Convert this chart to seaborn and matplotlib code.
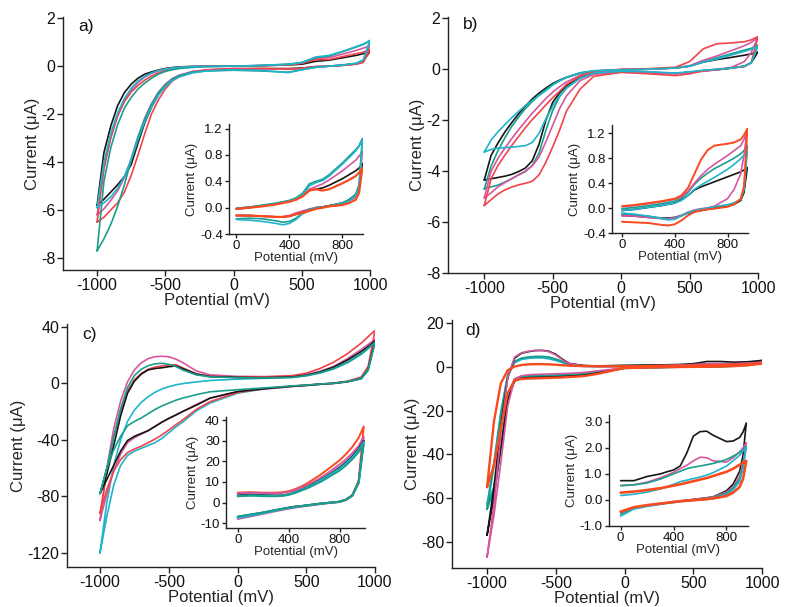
import matplotlib
matplotlib.use("Agg")
import matplotlib.pyplot as plt
import seaborn as sns

# ---------------- data ----------------
MAIN_X = [-1000, -950, -900, -850, -800, -750, -700, -650, -600, -550, -500, -450, -400,
          -300, -200, 0, 200, 400, 500, 600, 700, 800, 900, 950, 1000]
INSET_X = [0, 100, 200, 300, 350, 400, 450, 500, 550, 600, 650, 700, 800, 850, 900, 925, 950]
INSET_X_C = [0, 100, 200, 300, 350, 400, 450, 500, 550, 600, 650, 700, 800, 850, 900, 950, 990]

# panel a
A_BLACK_UP = [-5.8, -3.6, -2.5, -1.65, -1.1, -0.75, -0.5, -0.33, -0.24, -0.16, -0.1, -0.06, -0.03, -0.01, 0, 0, 0.02, 0.05, 0.08, 0.2, 0.25, 0.35, 0.45, 0.52, 0.62]
A_BLACK_DN = [-5.8, -5.55, -5.25, -4.95, -4.6, -4.1, -3.2, -2.35, -1.7, -1.18, -0.8, -0.55, -0.4, -0.24, -0.17, -0.12, -0.1, -0.1, -0.08, -0.02, 0.0, 0.04, 0.1, 0.2, 0.62]
A_TEAL_UP = [-7.7, -4.8, -3.4, -2.45, -1.75, -1.3, -0.95, -0.7, -0.5, -0.33, -0.22, -0.15, -0.1, -0.05, -0.02, 0, 0.03, 0.08, 0.15, 0.35, 0.42, 0.6, 0.8, 0.9, 1.05]
A_TEAL_DN = [-7.7, -7.2, -6.6, -5.85, -4.95, -3.9, -2.95, -2.2, -1.58, -1.1, -0.78, -0.55, -0.4, -0.25, -0.2, -0.17, -0.2, -0.25, -0.15, -0.05, 0.0, 0.05, 0.12, 0.25, 1.05]
A_CYAN_UP = [-5.9, -4.0, -2.8, -1.95, -1.35, -0.92, -0.62, -0.42, -0.28, -0.18, -0.12, -0.08, -0.05, -0.02, -0.01, 0, 0.03, 0.08, 0.15, 0.38, 0.45, 0.62, 0.82, 0.92, 1.08]
A_CYAN_DN = [-5.9, -5.7, -5.45, -5.1, -4.6, -3.9, -3.05, -2.3, -1.7, -1.2, -0.85, -0.6, -0.45, -0.28, -0.2, -0.15, -0.18, -0.27, -0.15, -0.05, 0.0, 0.05, 0.12, 0.25, 1.08]
A_PINK_UP = [-6.2, -4.3, -3.0, -2.1, -1.45, -1.0, -0.68, -0.45, -0.3, -0.2, -0.13, -0.08, -0.05, -0.02, -0.01, 0, 0.02, 0.07, 0.12, 0.3, 0.36, 0.5, 0.66, 0.75, 0.85]
A_PINK_DN = [-6.2, -5.95, -5.6, -5.2, -4.65, -3.85, -2.95, -2.15, -1.55, -1.08, -0.75, -0.52, -0.38, -0.22, -0.15, -0.1, -0.11, -0.13, -0.1, -0.02, 0.0, 0.04, 0.1, 0.2, 0.85]
A_RED_UP = [-6.5, -4.2, -2.95, -2.05, -1.48, -1.08, -0.8, -0.58, -0.41, -0.28, -0.19, -0.12, -0.08, -0.03, -0.01, 0, 0.02, 0.06, 0.12, 0.27, 0.28, 0.4, 0.52, 0.58, 0.7]
A_RED_DN = [-6.5, -6.3, -6.0, -5.7, -5.25, -4.55, -3.7, -2.8, -1.97, -1.4, -0.95, -0.62, -0.45, -0.25, -0.16, -0.1, -0.1, -0.12, -0.1, -0.03, 0.0, 0.03, 0.08, 0.15, 0.7]

AI_BLACK_UP = [-0.02, 0.0, 0.03, 0.06, 0.08, 0.1, 0.13, 0.18, 0.26, 0.28, 0.3, 0.34, 0.44, 0.5, 0.56, 0.6, 0.67]
AI_BLACK_DN = [-0.12, -0.12, -0.13, -0.14, -0.14, -0.13, -0.1, -0.07, -0.04, 0.0, 0.01, 0.03, 0.07, 0.12, 0.2, 0.3, 0.67]
AI_TEAL_UP = [-0.01, 0.01, 0.04, 0.07, 0.09, 0.11, 0.15, 0.22, 0.36, 0.4, 0.43, 0.5, 0.68, 0.78, 0.88, 0.94, 1.05]
AI_TEAL_DN = [-0.17, -0.16, -0.17, -0.2, -0.22, -0.21, -0.16, -0.08, -0.03, 0.0, 0.01, 0.03, 0.07, 0.12, 0.2, 0.35, 1.05]
AI_CYAN_UP = [-0.02, 0.0, 0.03, 0.06, 0.08, 0.1, 0.14, 0.2, 0.33, 0.38, 0.41, 0.48, 0.66, 0.76, 0.86, 0.93, 1.02]
AI_CYAN_DN = [-0.18, -0.19, -0.21, -0.24, -0.26, -0.24, -0.18, -0.09, -0.04, -0.01, 0.0, 0.02, 0.06, 0.1, 0.18, 0.3, 1.02]
AI_PINK_UP = [-0.01, 0.01, 0.03, 0.06, 0.08, 0.1, 0.13, 0.19, 0.28, 0.32, 0.36, 0.42, 0.56, 0.64, 0.72, 0.78, 0.85]
AI_PINK_DN = [-0.12, -0.12, -0.13, -0.14, -0.14, -0.12, -0.08, -0.05, -0.02, 0.0, 0.01, 0.03, 0.06, 0.1, 0.16, 0.26, 0.85]
AI_RED_UP = [-0.02, 0.0, 0.02, 0.05, 0.07, 0.09, 0.12, 0.17, 0.26, 0.28, 0.26, 0.28, 0.37, 0.42, 0.48, 0.53, 0.6]
AI_RED_DN = [-0.12, -0.12, -0.13, -0.14, -0.14, -0.13, -0.1, -0.08, -0.05, -0.02, 0.0, 0.02, 0.04, 0.07, 0.12, 0.22, 0.6]

# panel b
B_BLACK_UP = [-4.35, -3.38, -2.9, -2.47, -2.1, -1.76, -1.45, -1.17, -0.94, -0.74, -0.56, -0.43, -0.32, -0.15, -0.07, -0.02, 0.0, 0.05, 0.12, 0.28, 0.38, 0.46, 0.55, 0.6, 0.68]
B_BLACK_DN = [-4.35, -4.3, -4.25, -4.2, -4.13, -4.02, -3.88, -3.6, -2.95, -2.0, -1.3, -0.93, -0.65, -0.3, -0.15, -0.1, -0.12, -0.16, -0.12, -0.06, -0.02, 0.04, 0.12, 0.25, 0.68]
B_TEAL_UP = [-4.7, -3.8, -3.2, -2.7, -2.25, -1.88, -1.55, -1.27, -1.02, -0.8, -0.6, -0.45, -0.33, -0.16, -0.07, -0.02, 0.0, 0.05, 0.12, 0.3, 0.45, 0.6, 0.75, 0.82, 0.95]
B_TEAL_DN = [-4.7, -4.62, -4.55, -4.43, -4.3, -4.15, -4.02, -3.78, -3.3, -2.4, -1.62, -1.08, -0.74, -0.35, -0.16, -0.1, -0.12, -0.17, -0.12, -0.06, -0.02, 0.04, 0.12, 0.25, 0.95]
B_CYAN_UP = [-3.25, -2.78, -2.46, -2.18, -1.91, -1.66, -1.43, -1.23, -1.03, -0.84, -0.62, -0.46, -0.32, -0.14, -0.06, -0.02, 0.0, 0.05, 0.12, 0.28, 0.4, 0.55, 0.7, 0.78, 0.9]
B_CYAN_DN = [-3.25, -3.15, -3.1, -3.08, -3.06, -3.03, -3.0, -2.88, -2.52, -1.95, -1.45, -1.05, -0.74, -0.35, -0.15, -0.08, -0.1, -0.15, -0.1, -0.04, 0.0, 0.04, 0.12, 0.25, 0.9]
B_PINK_UP = [-5.05, -4.0, -3.5, -3.1, -2.73, -2.38, -2.05, -1.73, -1.44, -1.15, -0.9, -0.69, -0.5, -0.24, -0.1, -0.02, 0.0, 0.06, 0.14, 0.35, 0.52, 0.72, 0.92, 1.05, 1.25]
B_PINK_DN = [-5.05, -4.85, -4.62, -4.45, -4.3, -4.15, -4.0, -3.8, -3.45, -2.85, -2.2, -1.55, -1.05, -0.45, -0.2, -0.12, -0.14, -0.18, -0.14, -0.08, -0.02, 0.06, 0.3, 0.65, 1.25]
B_RED_UP = [-5.35, -4.3, -3.78, -3.38, -3.0, -2.65, -2.3, -1.98, -1.7, -1.4, -1.12, -0.87, -0.6, -0.27, -0.09, 0.0, 0.02, 0.08, 0.3, 0.8, 1.0, 1.03, 1.08, 1.15, 1.28]
B_RED_DN = [-5.35, -5.12, -4.9, -4.74, -4.63, -4.54, -4.48, -4.4, -4.15, -3.65, -3.05, -2.4, -1.65, -0.78, -0.28, -0.12, -0.18, -0.25, -0.18, -0.06, 0.0, 0.05, 0.1, 0.25, 1.28]

BI_BLACK_UP = [-0.04, -0.02, 0.01, 0.04, 0.06, 0.08, 0.13, 0.2, 0.29, 0.34, 0.38, 0.42, 0.5, 0.54, 0.58, 0.61, 0.65]
BI_BLACK_DN = [-0.12, -0.13, -0.15, -0.16, -0.16, -0.15, -0.12, -0.08, -0.06, -0.04, -0.02, 0.0, 0.03, 0.06, 0.12, 0.25, 0.65]
BI_TEAL_UP = [-0.01, 0.01, 0.04, 0.07, 0.09, 0.11, 0.16, 0.25, 0.38, 0.48, 0.56, 0.63, 0.74, 0.8, 0.87, 0.92, 1.0]
BI_TEAL_DN = [-0.1, -0.11, -0.13, -0.16, -0.17, -0.16, -0.12, -0.07, -0.04, -0.02, 0.0, 0.02, 0.05, 0.08, 0.14, 0.3, 1.0]
BI_CYAN_UP = [-0.04, -0.02, 0.01, 0.04, 0.06, 0.08, 0.12, 0.2, 0.3, 0.37, 0.43, 0.49, 0.62, 0.7, 0.79, 0.85, 0.92]
BI_CYAN_DN = [-0.08, -0.1, -0.13, -0.17, -0.19, -0.18, -0.13, -0.08, -0.04, -0.02, 0.0, 0.02, 0.05, 0.08, 0.14, 0.3, 0.92]
BI_PINK_UP = [0.02, 0.04, 0.07, 0.1, 0.12, 0.14, 0.18, 0.27, 0.4, 0.52, 0.62, 0.7, 0.84, 0.92, 1.0, 1.1, 1.27]
BI_PINK_DN = [-0.12, -0.13, -0.15, -0.17, -0.17, -0.16, -0.12, -0.07, -0.03, -0.01, 0.0, 0.03, 0.15, 0.3, 0.55, 0.85, 1.27]
BI_RED_UP = [0.03, 0.05, 0.08, 0.11, 0.13, 0.15, 0.2, 0.32, 0.55, 0.78, 0.93, 1.0, 1.03, 1.05, 1.1, 1.17, 1.27]
BI_RED_DN = [-0.22, -0.23, -0.24, -0.27, -0.28, -0.26, -0.2, -0.12, -0.06, -0.04, -0.02, -0.01, 0.02, 0.06, 0.15, 0.35, 1.27]

# panel c
C_BLACK_UP = [-78, -64, -44, -23, -7, 1.5, 6.5, 9.5, 10.5, 11.0, 11.8, 12.3, 10.5, 6.5, 4.8, 4.2, 4.0, 4.5, 5.8, 8.0, 11.5, 16.5, 22.5, 26.0, 30.0]
C_BLACK_DN = [-78, -68, -58, -48, -40.5, -37.5, -35.5, -33.5, -30.5, -27.5, -24.8, -22.5, -20.0, -15.5, -10.5, -5.8, -3.8, -2.0, -1.4, -0.6, 0.0, 1.2, 3.5, 10.0, 30.0]
C_TEAL_UP = [-78, -60, -38, -18, -3, 5.5, 10.0, 12.5, 13.8, 14.2, 13.5, 12.0, 9.5, 6.0, 4.6, 4.0, 3.8, 4.2, 5.5, 7.5, 10.5, 15.0, 21.0, 25.0, 29.0]
C_TEAL_DN = [-78, -60, -47, -37.5, -30, -27, -24.5, -21.5, -18.5, -16.0, -14.0, -12.0, -10.5, -8.0, -6.0, -4.5, -3.2, -1.8, -1.2, -0.5, 0.0, 1.2, 3.5, 10.0, 29.0]
C_CYAN_UP = [-120, -84, -58, -40, -27, -19, -13.5, -9.5, -6.3, -4.0, -2.4, -1.1, -0.2, 1.0, 2.0, 3.0, 3.6, 4.2, 5.3, 7.3, 10.2, 14.5, 20.5, 24.5, 29.0]
C_CYAN_DN = [-120, -94, -72, -58, -51, -48, -46, -44, -42, -39, -35, -31, -27.5, -19.5, -14.0, -7.0, -3.8, -2.2, -1.5, -0.7, 0.0, 1.0, 3.2, 9.0, 29.0]
C_PINK_UP = [-97, -60, -32, -12.5, 1.0, 9.5, 14.5, 17.5, 18.8, 19.2, 18.8, 17.2, 14.8, 8.8, 6.0, 4.9, 4.8, 5.0, 6.2, 8.5, 12.0, 17.5, 24.0, 27.5, 31.0]
C_PINK_DN = [-97, -78, -62, -50, -42, -38.5, -36, -33.5, -30.5, -27.5, -25, -22.5, -20, -15, -10.5, -6.0, -4.0, -2.2, -1.5, -0.7, 0.0, 1.2, 3.8, 11.0, 31.0]
C_RED_UP = [-92, -62, -38, -20, -5.5, 2.5, 7.0, 10.0, 11.5, 12.3, 13.0, 13.2, 11.0, 6.8, 5.0, 4.5, 4.5, 5.5, 7.2, 10.5, 15.0, 21.0, 28.5, 33.0, 37.5]
C_RED_DN = [-92, -75, -62, -54, -49, -46.5, -44.5, -42, -39.5, -36.5, -33, -29.5, -26, -18.5, -13, -6.5, -3.5, -2.0, -1.3, -0.5, 0.2, 1.5, 4.5, 12.0, 37.5]

CI_BLACK_UP = [3.5, 3.8, 3.6, 3.4, 3.5, 4.0, 5.0, 6.2, 7.6, 9.2, 11.0, 12.8, 17.0, 19.5, 22.5, 26.0, 30.0]
CI_BLACK_DN = [-7.0, -6.0, -4.9, -3.7, -3.1, -2.5, -2.0, -1.7, -1.3, -0.9, -0.5, -0.2, 0.4, 1.4, 3.5, 10.0, 30.0]
CI_TEAL_UP = [3.0, 3.3, 3.1, 3.0, 3.2, 3.7, 4.6, 5.8, 7.0, 8.5, 10.0, 11.8, 15.5, 18.0, 21.0, 24.5, 28.5]
CI_TEAL_DN = [-6.8, -5.8, -4.8, -3.6, -3.0, -2.5, -2.0, -1.7, -1.3, -0.9, -0.5, -0.2, 0.4, 1.3, 3.3, 9.5, 28.5]
CI_CYAN_UP = [3.2, 3.5, 3.4, 3.2, 3.4, 3.9, 4.9, 6.1, 7.5, 9.0, 10.8, 12.6, 16.5, 19.0, 22.0, 25.5, 29.5]
CI_CYAN_DN = [-7.5, -6.4, -5.2, -3.9, -3.3, -2.7, -2.2, -1.8, -1.4, -1.0, -0.6, -0.3, 0.3, 1.3, 3.4, 9.8, 29.5]
CI_PINK_UP = [4.5, 4.8, 4.6, 4.5, 4.7, 5.2, 6.0, 7.2, 8.6, 10.2, 12.0, 14.0, 18.5, 21.0, 24.0, 27.5, 32.0]
CI_PINK_DN = [-8.0, -6.8, -5.5, -4.2, -3.6, -3.0, -2.5, -2.0, -1.6, -1.2, -0.8, -0.4, 0.2, 1.2, 3.2, 9.5, 32.0]
CI_RED_UP = [4.8, 5.0, 4.8, 4.8, 5.0, 5.5, 6.5, 7.8, 9.5, 11.5, 13.5, 15.8, 20.5, 23.5, 27.0, 31.5, 37.0]
CI_RED_DN = [-7.2, -6.2, -5.0, -3.8, -3.2, -2.6, -2.1, -1.8, -1.4, -1.0, -0.6, -0.3, 0.4, 1.4, 3.5, 10.5, 37.0]

# panel d
D_BLACK_UP = [-77, -55, -27, -5, 4.0, 6.3, 7.0, 7.5, 7.6, 7.2, 5.8, 3.5, 1.6, 0.7, 0.5, 0.7, 0.9, 1.1, 1.5, 2.5, 2.5, 2.2, 2.4, 2.7, 3.0]
D_BLACK_DN = [-77, -60, -37, -15, -6.5, -5.2, -4.9, -4.8, -4.7, -4.6, -4.5, -4.4, -4.2, -3.8, -2.8, -0.5, -0.2, 0.0, 0.1, 0.2, 0.3, 0.6, 1.2, 2.0, 3.0]
D_TEAL_UP = [-65, -45, -22, -4, 2.5, 4.0, 4.5, 4.8, 4.8, 4.5, 3.6, 2.5, 1.3, 0.5, 0.4, 0.6, 0.8, 1.0, 1.2, 1.3, 1.4, 1.6, 1.8, 2.0, 2.1]
D_TEAL_DN = [-65, -56, -38, -15, -5.8, -4.6, -4.3, -4.2, -4.1, -4.0, -3.9, -3.8, -3.6, -3.2, -2.4, -0.5, -0.2, 0.0, 0.1, 0.15, 0.25, 0.5, 1.0, 1.6, 2.1]
D_CYAN_UP = [-63, -44, -21, -4, 2.0, 3.5, 4.0, 4.2, 4.2, 3.8, 3.0, 2.0, 1.0, 0.3, 0.2, 0.2, 0.4, 0.6, 0.75, 0.9, 1.1, 1.3, 1.7, 2.0, 2.1]
D_CYAN_DN = [-63, -55, -37, -14, -5.5, -4.4, -4.1, -4.0, -3.9, -3.8, -3.7, -3.6, -3.5, -3.1, -2.3, -0.6, -0.25, -0.05, 0.05, 0.1, 0.2, 0.4, 0.8, 1.4, 2.1]
D_PINK_UP = [-87, -63, -31, -5, 4.5, 6.5, 7.2, 7.6, 7.5, 7.0, 5.5, 3.2, 1.5, 0.5, 0.2, 0.3, 0.6, 0.9, 1.1, 1.5, 1.5, 1.5, 1.8, 2.0, 2.2]
D_PINK_DN = [-87, -68, -44, -18, -5.5, -4.0, -3.6, -3.4, -3.3, -3.2, -3.1, -3.0, -2.9, -2.5, -1.8, -0.4, -0.2, 0.0, 0.1, 0.2, 0.3, 0.5, 1.0, 1.6, 2.2]
D_RED_UP = [-55, -25, -7.5, -1.5, 0.2, 0.9, 1.2, 1.3, 1.3, 1.2, 1.0, 0.8, 0.6, 0.4, 0.3, 0.3, 0.4, 0.55, 0.65, 0.75, 0.85, 1.0, 1.3, 1.4, 1.5]
D_RED_DN = [-55, -45, -28, -12, -6, -5.5, -5.3, -5.2, -5.1, -5.0, -4.9, -4.8, -4.6, -4.2, -3.2, -0.5, -0.2, 0.0, 0.05, 0.1, 0.2, 0.4, 0.8, 1.2, 1.5]

DI_BLACK_UP = [0.74, 0.74, 0.9, 1.0, 1.08, 1.15, 1.3, 1.8, 2.45, 2.62, 2.64, 2.48, 2.24, 2.26, 2.4, 2.6, 2.95]
DI_BLACK_DN = [-0.45, -0.3, -0.22, -0.15, -0.12, -0.08, -0.05, -0.02, 0.02, 0.05, 0.08, 0.12, 0.35, 0.6, 1.1, 1.7, 2.95]
DI_TEAL_UP = [0.55, 0.58, 0.65, 0.8, 0.9, 1.0, 1.1, 1.2, 1.26, 1.3, 1.35, 1.4, 1.55, 1.68, 1.82, 1.92, 2.05]
DI_TEAL_DN = [-0.55, -0.32, -0.22, -0.15, -0.11, -0.08, -0.05, -0.02, 0.0, 0.03, 0.06, 0.1, 0.25, 0.45, 0.8, 1.3, 2.05]
DI_CYAN_UP = [0.17, 0.22, 0.3, 0.42, 0.5, 0.6, 0.7, 0.76, 0.82, 0.88, 0.95, 1.05, 1.3, 1.5, 1.72, 1.88, 2.05]
DI_CYAN_DN = [-0.62, -0.35, -0.25, -0.17, -0.13, -0.1, -0.07, -0.04, -0.02, 0.0, 0.02, 0.05, 0.2, 0.38, 0.7, 1.2, 2.05]
DI_PINK_UP = [0.55, 0.58, 0.68, 0.85, 0.95, 1.06, 1.2, 1.33, 1.5, 1.64, 1.62, 1.5, 1.45, 1.62, 1.85, 2.0, 2.2]
DI_PINK_DN = [-0.5, -0.3, -0.2, -0.13, -0.1, -0.06, -0.03, 0.0, 0.02, 0.05, 0.08, 0.12, 0.3, 0.5, 0.9, 1.4, 2.2]
DI_RED_UP = [0.28, 0.32, 0.38, 0.45, 0.5, 0.55, 0.6, 0.66, 0.72, 0.78, 0.84, 0.92, 1.08, 1.2, 1.35, 1.42, 1.5]
DI_RED_DN = [-0.45, -0.28, -0.2, -0.14, -0.11, -0.08, -0.05, -0.03, -0.01, 0.01, 0.03, 0.06, 0.15, 0.28, 0.5, 0.8, 1.5]

BLACK = "#161616"
TEAL = "#1a9e8c"
CYAN = "#1fb4cb"
PINK = "#d7569f"
RED = "#f0444a"
ORANGE = "#fa4a1e"

# ---------------- figure ----------------
sns.set_style("ticks")
plt.rcParams["font.family"] = ["Liberation Sans", "DejaVu Sans"]
plt.rcParams["axes.unicode_minus"] = False

W, H = 787, 607
fig = plt.figure(figsize=(W / 100, H / 100), dpi=100)


def box(l, t, r, b):
    return [l / W, 1 - b / H, (r - l) / W, (b - t) / H]


def cv(ax, xs, up, dn, color, lw=1.1):
    x = list(xs) + list(xs)[::-1]
    y = list(up) + list(dn)[::-1]
    sns.lineplot(x=x, y=y, sort=False, estimator=None, color=color,
                 linewidth=lw, ax=ax, legend=False)


def style(ax, inset=False):
    sns.despine(ax=ax)
    fs = 9.5 if inset else 11.5
    for s in ("left", "bottom"):
        ax.spines[s].set_linewidth(1.0)
        ax.spines[s].set_color("#222222")
    ax.tick_params(direction="out", length=3 if inset else 4, width=1.0,
                   labelsize=fs, pad=1.5, colors="#222222", labelcolor="#111111")
    ax.set_facecolor("none")
    if inset:
        ax.set_xlabel("Potential (mV)", fontsize=9.5, labelpad=0)
        ax.set_ylabel("Current (\u03bcA)", fontsize=9.5, labelpad=1)
        ax.set_xticks([0, 400, 800])
    else:
        ax.set_xlabel("Potential (mV)", fontsize=12, labelpad=0)
        ax.set_ylabel("Current (\u03bcA)", fontsize=12, labelpad=1)
        ax.set_xticks([-1000, -500, 0, 500, 1000])


def panel(rect, irect, main_series, inset_series, ix, xlim, ylim, yticks,
          ixlim, iylim, iyticks, fmt):
    ax = fig.add_axes(box(*rect))
    for up, dn, c, lw in main_series:
        cv(ax, MAIN_X, up, dn, c, lw)
    ax.set_xlim(*xlim)
    ax.set_ylim(*ylim)
    ax.set_yticks(yticks)
    style(ax)
    ins = fig.add_axes(box(*irect))
    for up, dn, c, lw in inset_series:
        cv(ins, ix, up, dn, c, lw)
    ins.set_xlim(*ixlim)
    ins.set_ylim(*iylim)
    ins.set_yticks(iyticks)
    ins.set_yticklabels([fmt.format(v) for v in iyticks])
    style(ins, inset=True)
    return ax, ins


# a)
panel((63, 17, 370, 270), (229, 124, 363, 234),
      [(A_BLACK_UP, A_BLACK_DN, BLACK, 1.2), (A_PINK_UP, A_PINK_DN, PINK, 1.2),
       (A_RED_UP, A_RED_DN, RED, 1.2), (A_TEAL_UP, A_TEAL_DN, TEAL, 1.2),
       (A_CYAN_UP, A_CYAN_DN, CYAN, 1.2)],
      [(AI_BLACK_UP, AI_BLACK_DN, BLACK, 1.2), (AI_PINK_UP, AI_PINK_DN, PINK, 1.2),
       (AI_TEAL_UP, AI_TEAL_DN, TEAL, 1.2), (AI_CYAN_UP, AI_CYAN_DN, CYAN, 1.2),
       (AI_RED_UP, AI_RED_DN, ORANGE, 1.6)],
      INSET_X, (-1250, 1000), (-8.5, 2.05), [2, 0, -2, -4, -6, -8],
      (-55, 955), (-0.4, 1.27), [-0.4, 0.0, 0.4, 0.8, 1.2], "{:.1f}")

# b)
panel((448, 17, 758, 273), (612, 125, 748, 233),
      [(B_BLACK_UP, B_BLACK_DN, BLACK, 1.2), (B_TEAL_UP, B_TEAL_DN, TEAL, 1.2),
       (B_PINK_UP, B_PINK_DN, PINK, 1.2), (B_RED_UP, B_RED_DN, RED, 1.2),
       (B_CYAN_UP, B_CYAN_DN, CYAN, 1.2)],
      [(BI_BLACK_UP, BI_BLACK_DN, BLACK, 1.2), (BI_TEAL_UP, BI_TEAL_DN, TEAL, 1.2),
       (BI_PINK_UP, BI_PINK_DN, PINK, 1.2), (BI_CYAN_UP, BI_CYAN_DN, CYAN, 1.2),
       (BI_RED_UP, BI_RED_DN, ORANGE, 1.4)],
      INSET_X, (-1265, 1000), (-8, 2.05), [2, 0, -2, -4, -6, -8],
      (-75, 955), (-0.4, 1.33), [-0.4, 0.0, 0.4, 0.8, 1.2], "{:.1f}")

# c)
panel((67, 324, 375, 567), (226, 417, 365, 528),
      [(C_CYAN_UP, C_CYAN_DN, CYAN, 1.2), (C_PINK_UP, C_PINK_DN, PINK, 1.2),
       (C_RED_UP, C_RED_DN, RED, 1.2), (C_BLACK_UP, C_BLACK_DN, BLACK, 1.2),
       (C_TEAL_UP, C_TEAL_DN, TEAL, 1.2)],
      [(CI_RED_UP, CI_RED_DN, ORANGE, 1.4), (CI_PINK_UP, CI_PINK_DN, PINK, 1.4),
       (CI_BLACK_UP, CI_BLACK_DN, BLACK, 1.4), (CI_CYAN_UP, CI_CYAN_DN, CYAN, 1.4),
       (CI_TEAL_UP, CI_TEAL_DN, TEAL, 1.4)],
      INSET_X_C, (-1240, 1000), (-130, 42), [40, 0, -40, -80, -120],
      (-92, 1000), (-12.4, 41.6), [-10, 0, 10, 20, 30, 40], "{:d}")

# d)
panel((452, 320, 762, 568), (609, 415, 748, 526),
      [(D_CYAN_UP, D_CYAN_DN, CYAN, 1.4), (D_TEAL_UP, D_TEAL_DN, TEAL, 1.4),
       (D_BLACK_UP, D_BLACK_DN, BLACK, 1.2), (D_PINK_UP, D_PINK_DN, PINK, 1.2),
       (D_RED_UP, D_RED_DN, ORANGE, 1.7)],
      [(DI_BLACK_UP, DI_BLACK_DN, BLACK, 1.2), (DI_PINK_UP, DI_PINK_DN, PINK, 1.2),
       (DI_TEAL_UP, DI_TEAL_DN, TEAL, 1.2), (DI_CYAN_UP, DI_CYAN_DN, CYAN, 1.2),
       (DI_RED_UP, DI_RED_DN, ORANGE, 1.9)],
      INSET_X, (-1255, 1000), (-92, 21.5), [20, 0, -20, -40, -60, -80],
      (-88, 963), (-1.0, 3.26), [-1.0, 0.0, 1.0, 2.0, 3.0], "{:.1f}")

for lab, px, py in (("a)", 78, 27), ("b)", 463, 25), ("c)", 82, 334), ("d)", 465, 331)):
    fig.text(px / W, 1 - py / H, lab, fontsize=12.5, ha="left", va="center", color="#111111")

fig.savefig("out.png", dpi=100, facecolor="white")
